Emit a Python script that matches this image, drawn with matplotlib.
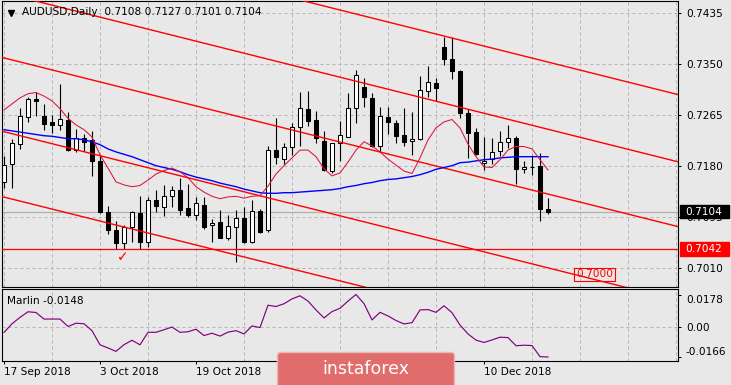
import numpy as np
import matplotlib
matplotlib.use("Agg")
import matplotlib.pyplot as plt
from matplotlib.patches import Rectangle, FancyBboxPatch
from matplotlib.transforms import IdentityTransform

# ---------------- data ----------------
# labels at bars 36 and 48 are hidden under the watermark in the reference
date_labels = ["17 Sep 2018", "3 Oct 2018", "19 Oct 2018", "", "", "10 Dec 2018"]
date_label_bars = [0, 12, 24, 36, 48, 60]

opens = [0.7154, 0.7183, 0.7217, 0.7262, 0.7292, 0.7264, 0.7254, 0.7248, 0.7257, 0.7207,
         0.7227, 0.7224, 0.7188, 0.7104, 0.7074, 0.7052, 0.7078, 0.7102, 0.7053, 0.7124,
         0.7112, 0.7130, 0.7140, 0.7110, 0.7098, 0.7115, 0.7082, 0.7087, 0.7060, 0.7079,
         0.7094, 0.7053, 0.7106, 0.7073, 0.7207, 0.7192, 0.7212, 0.7245, 0.7275, 0.7257,
         0.7222, 0.7172, 0.7219, 0.7229, 0.7277, 0.7312, 0.7294, 0.7213, 0.7262, 0.7252,
         0.7232, 0.7222, 0.7226, 0.7306, 0.7319, 0.7378, 0.7358, 0.7339, 0.7268, 0.7237,
         0.7186, 0.7192, 0.7206, 0.7221, 0.7227, 0.7175, 0.7178, 0.7181, 0.7108]
highs = [0.7197, 0.7225, 0.7277, 0.7296, 0.7304, 0.7284, 0.7266, 0.7317, 0.7270, 0.7242,
         0.7234, 0.7239, 0.7199, 0.7114, 0.7089, 0.7082, 0.7106, 0.7131, 0.7129, 0.7141,
         0.7148, 0.7147, 0.7161, 0.7151, 0.7128, 0.7128, 0.7092, 0.7107, 0.7099, 0.7107,
         0.7112, 0.7124, 0.7108, 0.7213, 0.7260, 0.7219, 0.7252, 0.7303, 0.7306, 0.7272,
         0.7239, 0.7219, 0.7256, 0.7302, 0.7341, 0.7327, 0.7302, 0.7278, 0.7278, 0.7257,
         0.7277, 0.7271, 0.7331, 0.7347, 0.7327, 0.7395, 0.7396, 0.7340, 0.7275, 0.7243,
         0.7229, 0.7227, 0.7238, 0.7249, 0.7231, 0.7188, 0.7199, 0.7202, 0.7127]
lows = [0.7143, 0.7144, 0.7209, 0.7254, 0.7264, 0.7241, 0.7236, 0.7241, 0.7206, 0.7203,
        0.7206, 0.7163, 0.7102, 0.7067, 0.7042, 0.7042, 0.7054, 0.7042, 0.7046, 0.7103,
        0.7097, 0.7112, 0.7098, 0.7096, 0.7090, 0.7076, 0.7054, 0.7060, 0.7057, 0.7021,
        0.7052, 0.7052, 0.7069, 0.7071, 0.7183, 0.7183, 0.7199, 0.7213, 0.7247, 0.7219,
        0.7172, 0.7168, 0.7188, 0.7228, 0.7252, 0.7278, 0.7212, 0.7204, 0.7234, 0.7219,
        0.7213, 0.7199, 0.7224, 0.7296, 0.7288, 0.7348, 0.7326, 0.7261, 0.7193, 0.7198,
        0.7174, 0.7184, 0.7197, 0.7211, 0.7151, 0.7169, 0.7165, 0.7088, 0.7101]
closes = [0.7182, 0.7218, 0.7264, 0.7292, 0.7288, 0.7251, 0.7249, 0.7258, 0.7207, 0.7227,
          0.7221, 0.7188, 0.7103, 0.7074, 0.7052, 0.7078, 0.7104, 0.7054, 0.7124, 0.7113,
          0.7130, 0.7140, 0.7107, 0.7098, 0.7118, 0.7079, 0.7085, 0.7061, 0.7080, 0.7093,
          0.7054, 0.7106, 0.7071, 0.7207, 0.7195, 0.7212, 0.7246, 0.7277, 0.7256, 0.7227,
          0.7173, 0.7218, 0.7232, 0.7277, 0.7332, 0.7295, 0.7213, 0.7264, 0.7253, 0.7231,
          0.7221, 0.7225, 0.7307, 0.7320, 0.7310, 0.7358, 0.7339, 0.7269, 0.7235, 0.7201,
          0.7189, 0.7204, 0.7220, 0.7227, 0.7176, 0.7178, 0.7178, 0.7108, 0.7104]

ma_fast = [0.7274, 0.7284, 0.7294, 0.7301, 0.7303, 0.7297, 0.7289, 0.7276, 0.7260, 0.7249,
           0.7241, 0.7229, 0.7199, 0.7177, 0.7154, 0.7149, 0.7146, 0.7148, 0.7157, 0.7167,
           0.7173, 0.7177, 0.7171, 0.7161, 0.7146, 0.7137, 0.7130, 0.7126, 0.7129, 0.7130,
           0.7127, 0.7130, 0.7131, 0.7147, 0.7167, 0.7181, 0.7194, 0.7207, 0.7207, 0.7196,
           0.7176, 0.7164, 0.7169, 0.7187, 0.7207, 0.7221, 0.7214, 0.7204, 0.7192, 0.7182,
           0.7172, 0.7168, 0.7194, 0.7224, 0.7244, 0.7254, 0.7258, 0.7244, 0.7217, 0.7196,
           0.7179, 0.7178, 0.7191, 0.7207, 0.7213, 0.7213, 0.7209, 0.7191, 0.7174]
ma_slow = [0.7241, 0.7239, 0.7237, 0.7235, 0.7233, 0.7231, 0.7230, 0.7228, 0.7226, 0.7226,
           0.7224, 0.7221, 0.7216, 0.7209, 0.7204, 0.7200, 0.7196, 0.7191, 0.7186, 0.7181,
           0.7178, 0.7175, 0.7171, 0.7166, 0.7162, 0.7159, 0.7156, 0.7152, 0.7149, 0.7146,
           0.7142, 0.7139, 0.7136, 0.7135, 0.7135, 0.7136, 0.7136, 0.7137, 0.7138, 0.7139,
           0.7140, 0.7141, 0.7143, 0.7146, 0.7148, 0.7151, 0.7153, 0.7156, 0.7158, 0.7159,
           0.7161, 0.7163, 0.7166, 0.7170, 0.7175, 0.7178, 0.7181, 0.7186, 0.7187, 0.7189,
           0.7191, 0.7192, 0.7194, 0.7195, 0.7196, 0.7196, 0.7196, 0.7196, 0.7196]

marlin = [-0.0031, 0.0017, 0.0052, 0.0083, 0.0079, 0.0043, 0.0043, 0.0043, 0.0002, 0.0020,
          0.0017, -0.0021, -0.0099, -0.0116, -0.0135, -0.0098, -0.0074, -0.0099, -0.0030, -0.0030,
          -0.0016, -0.0001, -0.0030, -0.0027, -0.0013, -0.0048, -0.0035, -0.0051, -0.0029, -0.0021,
          -0.0039, 0.0005, -0.0004, 0.0119, 0.0112, 0.0127, 0.0154, 0.0171, 0.0142, 0.0093,
          0.0049, 0.0084, 0.0102, 0.0142, 0.0178, 0.0128, 0.0038, 0.0080, 0.0060, 0.0035,
          0.0016, 0.0023, 0.0093, 0.0095, 0.0080, 0.0116, 0.0078, 0.0010, -0.0039, -0.0073,
          -0.0086, -0.0072, -0.0057, -0.0059, -0.0104, -0.0101, -0.0103, -0.0164, -0.0166]

price_ticks = [0.7435, 0.7350, 0.7265, 0.7180, 0.7095, 0.7010]
marlin_ticks = [0.0178, 0.0, -0.0166]
marlin_tick_labels = ["0.0178", "0.00", "-0.0166"]

bid_price = 0.7104
level_price = 0.7042
target_price = 0.7000
target_bar = 71.5
check_bar, check_price = 14.8, 0.7029

channel_x = [-1, 85]
channel_lines = [
    [0.7584, 0.7297],
    [0.7472, 0.7185],
    [0.7364, 0.7077],
    [0.7241, 0.6954],
    [0.7132, 0.6846],
]

title = "AUDUSD,Daily  0.7108 0.7127 0.7101 0.7104"
marlin_label = "Marlin -0.0148"

# ---------------- style ----------------
W, H = 731, 385
BG = "#e8e8e8"
GRID = "#b4b4b4"
FS = 7.6
DASH = (0, (3, 3))
plt.rcParams['font.family'] = ['DejaVu Sans']

fig = plt.figure(figsize=(W / 100, H / 100), dpi=100, facecolor=BG)


def px_axes(l, t, r, b):
    return [l / W, (H - b) / H, (r - l) / W, (b - t) / H]


ax = fig.add_axes(px_axes(2, 1, 678, 286.7), facecolor=BG)
ax2 = fig.add_axes(px_axes(2, 288.7, 678, 361), facecolor=BG)

for a in (ax, ax2):
    a.set_xlim(-0.25, 84.25)
    for s in a.spines.values():
        s.set_linewidth(0.8)
        s.set_color("black")

ax.set_ylim(0.697933, 0.74555)
ax2.set_ylim(-0.0188, 0.0210)

# grids
ax.set_xticks(np.arange(0, 85, 6))
ax.set_yticks(price_ticks)
ax.set_yticklabels([f"{p:.4f}" for p in price_ticks])
ax.grid(True, color=GRID, lw=0.72, ls=DASH, zorder=0)
ax.tick_params(axis='x', length=0, labelbottom=False)
ax.yaxis.tick_right()
ax.tick_params(axis='y', length=2.2, width=0.72, pad=3.4, labelsize=FS, colors='black')

ax2.set_xticks(np.arange(0, 85, 6), minor=True)
ax2.set_xticks(date_label_bars)
ax2.set_xticklabels(date_labels, ha='left')
ax2.grid(True, which='minor', axis='x', color=GRID, lw=0.72, ls=DASH)
ax2.tick_params(axis='x', which='minor', length=0)
ax2.tick_params(axis='x', which='major', length=2.2, width=0.72, pad=2.0, labelsize=FS)
ax2.axhline(0, color=GRID, lw=0.72, ls=DASH, zorder=0)
ax2.yaxis.tick_right()
ax2.set_yticks(marlin_ticks)
ax2.set_yticklabels(marlin_tick_labels)
ax2.tick_params(axis='y', length=2.2, width=0.72, pad=3.4, labelsize=FS)
ylabs = ax2.get_yticklabels()
ylabs[0].set_va('top')
ylabs[-1].set_va('bottom')

# ---------------- main chart ----------------
idx = np.arange(len(opens))
o = np.array(opens); h = np.array(highs); l = np.array(lows); c = np.array(closes)

ax.axhline(bid_price, color="#b0b0b0", lw=0.9, zorder=1)
ax.axhline(level_price, color="red", lw=0.9, zorder=3)

ax.vlines(idx, l, h, color='black', lw=0.8, zorder=2)
up = c >= o
ax.bar(idx[up], (c - o)[up], bottom=o[up], width=0.6, facecolor='white',
       edgecolor='black', lw=0.75, zorder=2.1)
ax.bar(idx[~up], (o - c)[~up], bottom=c[~up], width=0.6, facecolor='black',
       edgecolor='black', lw=0.75, zorder=2.1)

for line in channel_lines:
    ax.plot(channel_x, line, color='red', lw=1.0, zorder=3)

ax.plot(idx, ma_slow, color='#0000ff', lw=1.0, zorder=3)
ax.plot(idx, ma_fast, color='#dc143c', lw=0.75, zorder=3)

ax.text(target_bar, target_price, "0.7000", color='red', fontsize=FS, ha='left', va='center',
        bbox=dict(boxstyle='square,pad=0.15', fc='none', ec='red', lw=0.8), zorder=4)
ax.text(check_bar, check_price, "\u2713", color='red', fontsize=10, ha='center', va='center',
        fontweight='bold', zorder=4)

# title
ax.plot([(10.8 - 2) / 676], [(286.7 - 12.5) / 285.7], marker='v', ms=5, color='black',
        transform=ax.transAxes, clip_on=False)
fig.text(22 / W, (H - 12) / H, title, fontsize=FS, ha='left', va='center', color='black')

# marlin
ax2.plot(idx, marlin, color='#800080', lw=0.85)
ax2.text((7 - 2) / 676, (361 - 301) / 72.3, marlin_label, fontsize=FS, ha='left', va='center',
         transform=ax2.transAxes)

# ---------------- price boxes on the axis ----------------
def axis_box(price, fc, text):
    ypx = ax.transData.transform((0, price))[1]
    r = Rectangle((680, ypx - 6.6), 49, 13.2, transform=IdentityTransform(),
                  facecolor=fc, edgecolor=fc, zorder=5)
    fig.add_artist(r)
    fig.text(685.5 / W, ypx / H, text, fontsize=FS, color='white', ha='left', va='center',
             zorder=6)

axis_box(bid_price, 'black', f"{bid_price:.4f}")
axis_box(level_price, 'red', f"{level_price:.4f}")

# ---------------- watermark logo ----------------
logo = FancyBboxPatch((277.5, -4), 177, 36.5, boxstyle='round,pad=0,rounding_size=3',
                      transform=IdentityTransform(), facecolor='#e06c6c', edgecolor='#f0b4b4',
                      lw=1.0, zorder=7)
fig.add_artist(logo)
fig.text(366 / W, (H - 368.5) / H, "instaforex", fontsize=12.5, color='white', ha='center',
         va='center', zorder=8)

fig.savefig("out.png", dpi=100, facecolor=BG)
